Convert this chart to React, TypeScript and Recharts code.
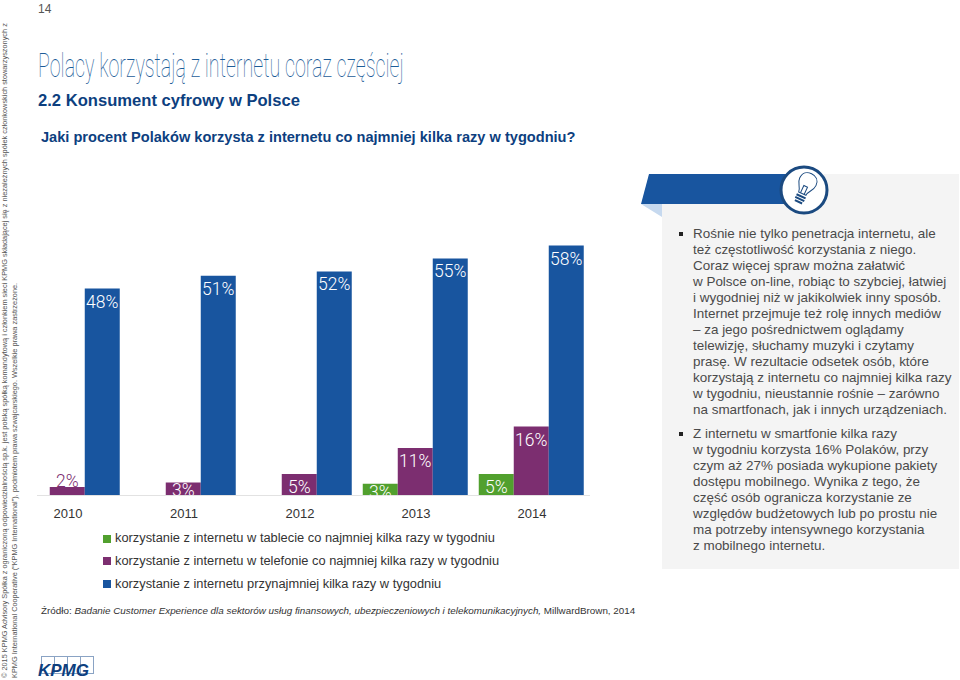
import { Bar, BarChart, LabelList, Legend, XAxis, YAxis } from "recharts";

const YEARS = ["2010", "2011", "2012", "2013", "2014"];
const TABLET = [null, null, null, 2.7, 5];
const PHONE = [2, 3, 5, 11, 16];
const ANY = [48, 51, 52, 55, 58];

const TABLET_NAME = "korzystanie z internetu w tablecie co najmniej kilka razy w tygodniu";
const PHONE_NAME = "korzystanie z internetu w telefonie co najmniej kilka razy w tygodniu";
const ANY_NAME = "korzystanie z internetu przynajmniej kilka razy w tygodniu";

const PARA_ONE = [
  "Rośnie nie tylko penetracja internetu, ale",
  "też częstotliwość korzystania z niego.",
  "Coraz więcej spraw można załatwić",
  "w Polsce on-line, robiąc to szybciej, łatwiej",
  "i wygodniej niż w jakikolwiek inny sposób.",
  "Internet przejmuje też rolę innych mediów",
  "– za jego pośrednictwem oglądamy",
  "telewizję, słuchamy muzyki i czytamy",
  "prasę. W rezultacie odsetek osób, które",
  "korzystają z internetu co najmniej kilka razy",
  "w tygodniu, nieustannie rośnie – zarówno",
  "na smartfonach, jak i innych urządzeniach.",
];
const PARA_TWO = [
  "Z internetu w smartfonie kilka razy",
  "w tygodniu korzysta 16% Polaków, przy",
  "czym aż 27% posiada wykupione pakiety",
  "dostępu mobilnego. Wynika z tego, że",
  "część osób ogranicza korzystanie ze",
  "względów budżetowych lub po prostu nie",
  "ma potrzeby intensywnego korzystania",
  "z mobilnego internetu.",
];

const LEGAL_ONE =
  "© 2015 KPMG Advisory Spółka z ograniczoną odpowiedzialnością sp.k. jest polską spółką komandytową i członkiem sieci KPMG składającej się z niezależnych spółek członkowskich stowarzyszonych z";
const LEGAL_TWO =
  "KPMG International Cooperative (“KPMG International”), podmiotem prawa szwajcarskiego. Wszelkie prawa zastrzeżone.";

const GREEN = "#51a02e";
const PURPLE = "#7c2e70";
const BLUE = "#18559f";
const NAVY = "#0d3f7f";
const FONT = "'Liberation Sans', sans-serif";
const LABEL_FONT = "Roboto, sans-serif";

const data = YEARS.map((year, i) => ({
  year,
  tablet: TABLET[i],
  phone: PHONE[i],
  any: ANY[i],
}));

// small bars need their label moved, the 2% one even sits above the bar
function BarLabel({ x, y, width, height, value }: any) {
  if (value == null) return null;
  const cx = x + width / 2;
  const label = `${Math.round(value)}%`;
  const textProps = {
    fontSize: 17.5,
    fontWeight: 300,
    fontFamily: LABEL_FONT,
    textAnchor: "middle" as const,
    dominantBaseline: "central" as const,
  };
  if (height < 10) {
    return (
      <text x={cx} y={y - 6} fill={PURPLE} {...textProps}>
        {label}
      </text>
    );
  }
  const dy = height < 12 ? 8 : height < 15 ? 7 : 13;
  return (
    <svg x={x} y={y} width={width} height={height}>
      <text x={width / 2} y={dy} fill="#fff" {...textProps}>
        {label}
      </text>
    </svg>
  );
}

function abs(left: number, top: number, extra: React.CSSProperties = {}): React.CSSProperties {
  return { position: "absolute", left, top, whiteSpace: "nowrap", fontFamily: FONT, ...extra };
}

function TextLines({ lines, top }: { lines: string[]; top: number }) {
  return (
    <>
      <div style={abs(679, top + 6, { width: 4, height: 4, background: "#222" })} />
      {lines.map((line, i) => (
        <div
          key={line}
          style={abs(693, top + i * 16, { fontSize: 13.45, lineHeight: "16px", color: "#4a4a4a" })}
        >
          {line}
        </div>
      ))}
    </>
  );
}

export default function App() {
  return (
    <div style={{ position: "absolute", left: 0, top: 0, width: 960, height: 680, background: "#fff", overflow: "hidden" }}>
      {/* right panel */}
      <div style={{ position: "absolute", left: 662, top: 174, width: 297, height: 395, background: "#f4f4f4" }} />
      <svg width={960} height={680} style={{ position: "absolute", left: 0, top: 0 }}>
        <polygon points="649,174 800,174 800,204 641,204" fill={BLUE} />
        <polygon points="641,204 662,204 662,217" fill="#c6d9ef" />
        <circle cx={804} cy={190} r={23} fill="#fff" stroke="#1b4a80" strokeWidth={3} />
        <g transform="rotate(25 804 190)" fill="none" stroke="#1b4a80" strokeWidth={1}>
          <path d="M800 194 C800 189 795 187 795 181 C795 175 799 172 804 172 C809 172 813 175 813 181 C813 187 808 189 808 194 Z" />
          <path d="M802 194 L802 186 L806 186 L806 194" />
          <path d="M799 197 H809 M799 200 H809 M800 203 H808" strokeWidth={2} />
        </g>
      </svg>

      <div style={abs(38, 2, { fontSize: 12, color: "#555" })}>14</div>
      <div
        style={abs(38, 45, {
          fontFamily: "Roboto, sans-serif",
          fontWeight: 100,
          fontSize: 34,
          lineHeight: "40px",
          color: "#1c5c98",
          transform: "scaleX(0.58)",
          transformOrigin: "left top",
        })}
      >
        Polacy korzystają z internetu coraz częściej
      </div>
      <div style={abs(38, 91, { fontSize: 16.6, lineHeight: "20px", fontWeight: 700, color: NAVY })}>
        2.2 Konsument cyfrowy w Polsce
      </div>
      <div style={abs(41, 128, { fontSize: 14.6, lineHeight: "18px", fontWeight: 700, color: NAVY })}>
        Jaki procent Polaków korzysta z internetu co najmniej kilka razy w tygodniu?
      </div>

      <div style={{ position: "absolute", left: 0, top: 0 }}>
        <BarChart
          width={960}
          height={680}
          data={data}
          barGap={0}
          barCategoryGap="4.1%"
          margin={{ top: 236.9, right: 370, bottom: 154.5, left: 37 }}
        >
          <XAxis
            dataKey="year"
            height={30}
            padding={{ left: -27, right: 0 }}
            tickLine={false}
            axisLine={{ stroke: "#e2e2e2" }}
            tick={{ fill: "#333", fontSize: 13, fontFamily: FONT }}
            tickMargin={7}
          />
          <YAxis hide domain={[0, 60]} />
          <Bar dataKey="tablet" name={TABLET_NAME} fill={GREEN} isAnimationActive={false}>
            <LabelList dataKey="tablet" content={BarLabel} />
          </Bar>
          <Bar dataKey="phone" name={PHONE_NAME} fill={PURPLE} isAnimationActive={false}>
            <LabelList dataKey="phone" content={BarLabel} />
          </Bar>
          <Bar dataKey="any" name={ANY_NAME} fill={BLUE} isAnimationActive={false}>
            <LabelList dataKey="any" content={BarLabel} />
          </Bar>
          <Legend
            layout="vertical"
            align="center"
            verticalAlign="middle"
            iconType="square"
            iconSize={8}
            itemSorter={null}
            wrapperStyle={{ left: 103, top: 527, width: 480, fontFamily: FONT, fontSize: 12.85 }}
            formatter={(value: string) => (
              <span style={{ color: "#333", lineHeight: "22.8px" }}>{value}</span>
            )}
          />
        </BarChart>
      </div>

      <div style={abs(41, 604, { fontSize: 9.85, lineHeight: "14px", color: "#333" })}>
        Źródło: <i>Badanie Customer Experience dla sektorów usług finansowych, ubezpieczeniowych i telekomunikacyjnych,</i>{" "}
        MillwardBrown, 2014
      </div>

      <TextLines lines={PARA_ONE} top={226} />
      <TextLines lines={PARA_TWO} top={426} />

      {/* legal text along the left edge */}
      <div
        style={abs(0, 678, {
          fontSize: 7.35,
          lineHeight: "10px",
          color: "#555",
          transform: "rotate(-90deg)",
          transformOrigin: "left top",
        })}
      >
        <div>{LEGAL_ONE}</div>
        <div>{LEGAL_TWO}</div>
      </div>

      {/* KPMG logo */}
      <div style={{ position: "absolute", left: 41, top: 656, display: "flex" }}>
        {[0, 1, 2, 3].map((b) => (
          <div key={b} style={{ width: 12, height: 16, border: "1px solid #8aa3c4", marginRight: -1 }} />
        ))}
      </div>
      <div
        style={abs(38, 663, {
          fontSize: 17,
          lineHeight: "16px",
          fontWeight: 700,
          fontStyle: "italic",
          color: NAVY,
        })}
      >
        KPMG
      </div>
    </div>
  );
}
